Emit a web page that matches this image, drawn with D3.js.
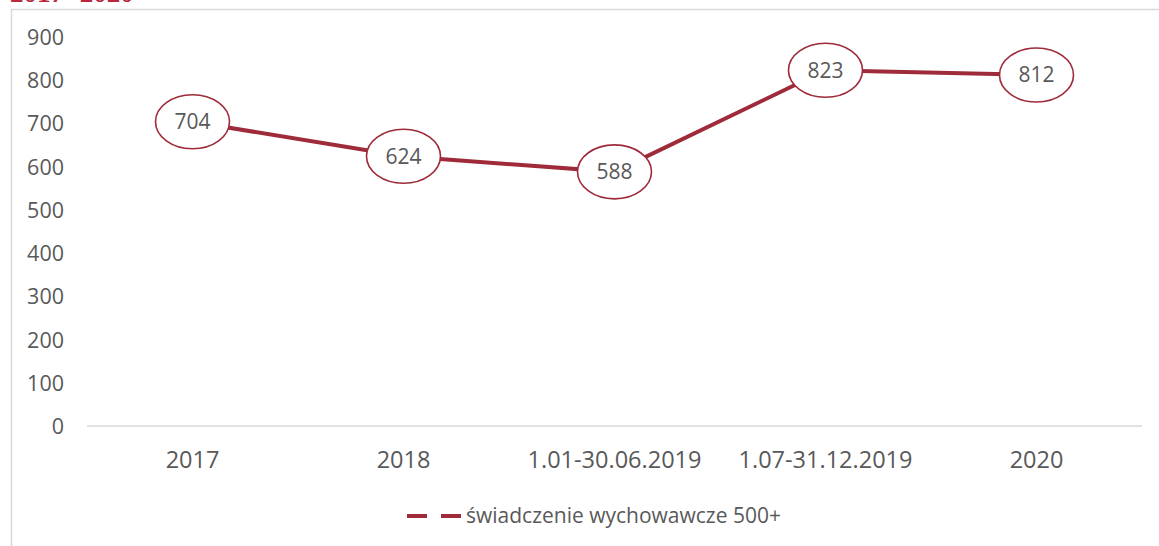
<!DOCTYPE html>
<html><head><meta charset="utf-8">
<script src="https://cdn.jsdelivr.net/npm/d3@7"></script>
<style>body{margin:0;background:#fff;}svg{display:block;}</style>
</head><body>
<script>
const categories = ["2017", "2018", "1.01-30.06.2019", "1.07-31.12.2019", "2020"];
const values = [704, 624, 588, 823, 812];
const yTicks = [0, 100, 200, 300, 400, 500, 600, 700, 800, 900];
const seriesName = "świadczenie wychowawcze 500+";
const titleText = "2017- 2020";

const W = 1159, H = 546;
const red = "#9e2a3a";
const grey = "#595959";
const font = "'Open Sans', 'Liberation Sans', sans-serif";

const svg = d3.select("body").append("svg").attr("width", W).attr("height", H);

// cut-off title (partially outside the top edge, as in the reference)
svg.append("text").attr("x", 10).attr("y", 2).attr("fill", "#b8283c")
  .attr("font-family", "'Liberation Serif', serif").attr("font-weight", "bold")
  .attr("font-size", 27).text(titleText);

// frame
svg.append("path").attr("d", `M11.5,${H} V9.5 H${W}`).attr("fill", "none")
  .attr("stroke", "#d9d9d9").attr("stroke-width", 1.5);

const x = d3.scaleBand().domain(categories).range([87, 1142]);
const y = d3.scaleLinear().domain([0, 900]).range([426, 37]);

// baseline
svg.append("line").attr("x1", 87).attr("x2", 1142).attr("y1", y(0)).attr("y2", y(0))
  .attr("stroke", "#d9d9d9").attr("stroke-width", 1.5);

// y axis labels
const yAxis = d3.axisLeft(y).tickValues(yTicks).tickSize(0).tickPadding(0);
const gy = svg.append("g").attr("transform", "translate(64,0)").call(yAxis);
gy.select(".domain").remove();
gy.selectAll("text").attr("font-size", 21.5).attr("font-family", font).attr("fill", grey).attr("dy", "0.35em");

// x axis labels
const xAxis = d3.axisBottom(x).tickSize(0).tickPadding(0);
const gx = svg.append("g").attr("transform", "translate(0,460)").call(xAxis);
gx.select(".domain").remove();
gx.selectAll("text").attr("font-size", 23.5).attr("font-family", font).attr("fill", grey).attr("dy", "0.35em");

const cx = d => x(d) + x.bandwidth() / 2;

// line
const line = d3.line().x((d, i) => cx(categories[i])).y(d => y(d));
svg.append("path").datum(values).attr("d", line).attr("fill", "none")
  .attr("stroke", red).attr("stroke-width", 4);

// labels in ellipses
const lab = svg.selectAll("g.lab").data(values).enter().append("g")
  .attr("transform", (d, i) => `translate(${cx(categories[i])},${y(d)})`);
lab.append("ellipse").attr("rx", 37).attr("ry", 27).attr("fill", "#fff")
  .attr("stroke", red).attr("stroke-width", 1.6);
lab.append("text").attr("text-anchor", "middle").attr("dy", "0.35em")
  .attr("font-size", 21).attr("font-family", font).attr("fill", grey).text(d => d);

// legend
const lg = svg.append("g").attr("transform", "translate(407,516)");
lg.append("line").attr("x1", 0).attr("x2", 54).attr("y1", 0).attr("y2", 0)
  .attr("stroke", red).attr("stroke-width", 4).attr("stroke-dasharray", "20,14");
lg.append("text").attr("x", 59).attr("dy", "0.35em").attr("font-size", 21)
  .attr("font-family", font).attr("fill", grey).text(seriesName);
</script>
</body></html>
